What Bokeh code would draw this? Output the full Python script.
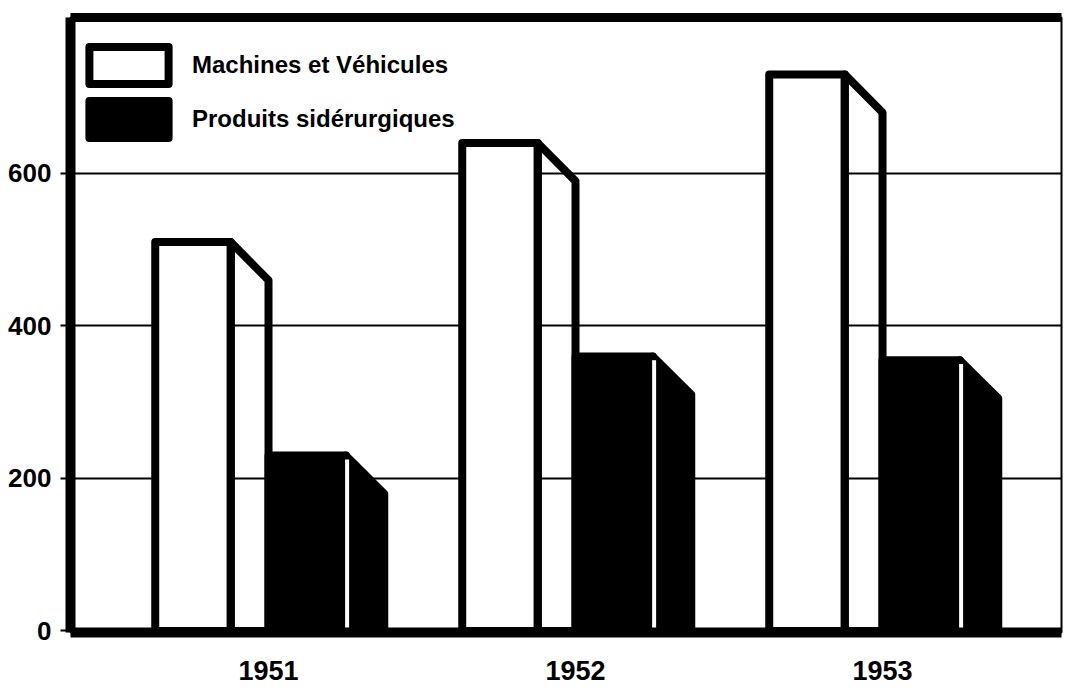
from bokeh.plotting import figure
from bokeh.models import (FixedTicker, LinearAxis, Range1d, Legend, LegendItem,
                          ColumnDataSource)
from bokeh.embed import file_html
from bokeh.resources import INLINE

# ---- data -------------------------------------------------------------
years = ["1951", "1952", "1953"]
machines = [510, 640, 730]        # Machines et Véhicules
produits = [230, 360, 355]        # Produits sidérurgiques
y_ticks = [0, 200, 400, 600]

# ---- bar shape (style) -------------------------------------------------
M_LEFT, M_DIV, M_RIGHT = -0.369, -0.123, 0.0
P_LEFT, P_DIV, P_RIGHT = 0.0, 0.252, 0.377
DROP = 50          # slant drop of the side face, in value units

pos = list(range(len(years)))

def side_polys(values, div, right):
    xs, ys = [], []
    for c, v in zip(pos, values):
        xs.append([c + div, c + div, c + right, c + right])
        ys.append([0, v, v - DROP, 0])
    return xs, ys

m_front = ColumnDataSource(dict(
    left=[c + M_LEFT for c in pos], right=[c + M_DIV for c in pos],
    top=machines, bottom=[0] * len(pos)))
p_front = ColumnDataSource(dict(
    left=[c + P_LEFT for c in pos], right=[c + P_DIV for c in pos],
    top=produits, bottom=[0] * len(pos)))
mx, my = side_polys(machines, M_DIV, M_RIGHT)
px_, py_ = side_polys(produits, P_DIV, P_RIGHT)

p = figure(width=1074, height=688,
           x_range=Range1d(-0.645, 2.583), y_range=Range1d(-2, 804.6),
           output_backend="svg", toolbar_location=None,
           min_border_left=70, min_border_right=13,
           min_border_top=17, min_border_bottom=56)
p.background_fill_color = "white"
p.border_fill_color = "white"
p.outline_line_color = "black"
p.outline_line_width = 2

# grid
p.xgrid.visible = False
p.ygrid.ticker = FixedTicker(ticks=[200, 400, 600])
p.ygrid.grid_line_color = "black"
p.ygrid.grid_line_width = 2
p.ygrid.grid_line_alpha = 1

FONT = "Liberation Sans"

# y axis
p.yaxis.ticker = FixedTicker(ticks=y_ticks)
p.yaxis.axis_line_width = 10
p.yaxis.axis_line_color = "black"
p.yaxis.major_tick_out = 10
p.yaxis.major_tick_in = 0
p.yaxis.major_tick_line_width = 2
p.yaxis.minor_tick_line_color = None
p.yaxis.major_label_standoff = 9
p.yaxis.major_label_text_font = FONT
p.yaxis.major_label_text_font_style = "bold"
p.yaxis.major_label_text_font_size = "26px"
p.yaxis.major_label_text_color = "black"

# x axis
p.xaxis.ticker = FixedTicker(ticks=pos)
p.xaxis.major_label_overrides = {i: y for i, y in zip(pos, years)}
p.xaxis.axis_line_width = 10
p.xaxis.axis_line_color = "black"
p.xaxis.major_tick_out = 0
p.xaxis.major_tick_in = 0
p.xaxis.minor_tick_line_color = None
p.xaxis.major_label_standoff = 28
p.xaxis.major_label_text_font = FONT
p.xaxis.major_label_text_font_style = "bold"
p.xaxis.major_label_text_font_size = "27px"
p.xaxis.major_label_text_color = "black"

# thick top border
top_axis = LinearAxis(ticker=FixedTicker(ticks=[]), axis_line_width=9,
                      axis_line_color="black", major_tick_out=0, major_tick_in=0,
                      minor_tick_out=0, minor_tick_in=0,
                      major_label_text_font_size="0px")
p.add_layout(top_axis, "above")

# bars
rm = p.quad(left="left", right="right", top="top", bottom="bottom", source=m_front,
            fill_color="white", line_color="black", line_width=8, line_join="round")
p.patches(mx, my, fill_alpha=0, line_color="black", line_width=8, line_join="round")
p.patches(px_, py_, fill_color="black", line_color="black", line_width=8,
          line_join="round")
rp = p.quad(left="left", right="right", top="top", bottom="bottom", source=p_front,
            fill_color="black", line_color="black", line_width=8, line_join="round")
p.segment(x0=[c + P_DIV + 0.004 for c in pos], y0=[0] * len(pos),
          x1=[c + P_DIV + 0.004 for c in pos], y1=[v - 5 for v in produits],
          line_color="white", line_width=4, line_cap="butt")

legend = Legend(items=[LegendItem(label="Machines et Véhicules", renderers=[rm]),
                       LegendItem(label="Produits sidérurgiques", renderers=[rp])],
                location=(9, 490), glyph_width=99, glyph_height=46, spacing=8,
                padding=0, margin=0, label_standoff=14,
                border_line_alpha=0, background_fill_alpha=0,
                label_text_font=FONT, label_text_font_style="bold",
                label_text_font_size="24px", label_text_color="black")
p.add_layout(legend, "center")

open("out.html", "w").write(file_html(p, INLINE))
